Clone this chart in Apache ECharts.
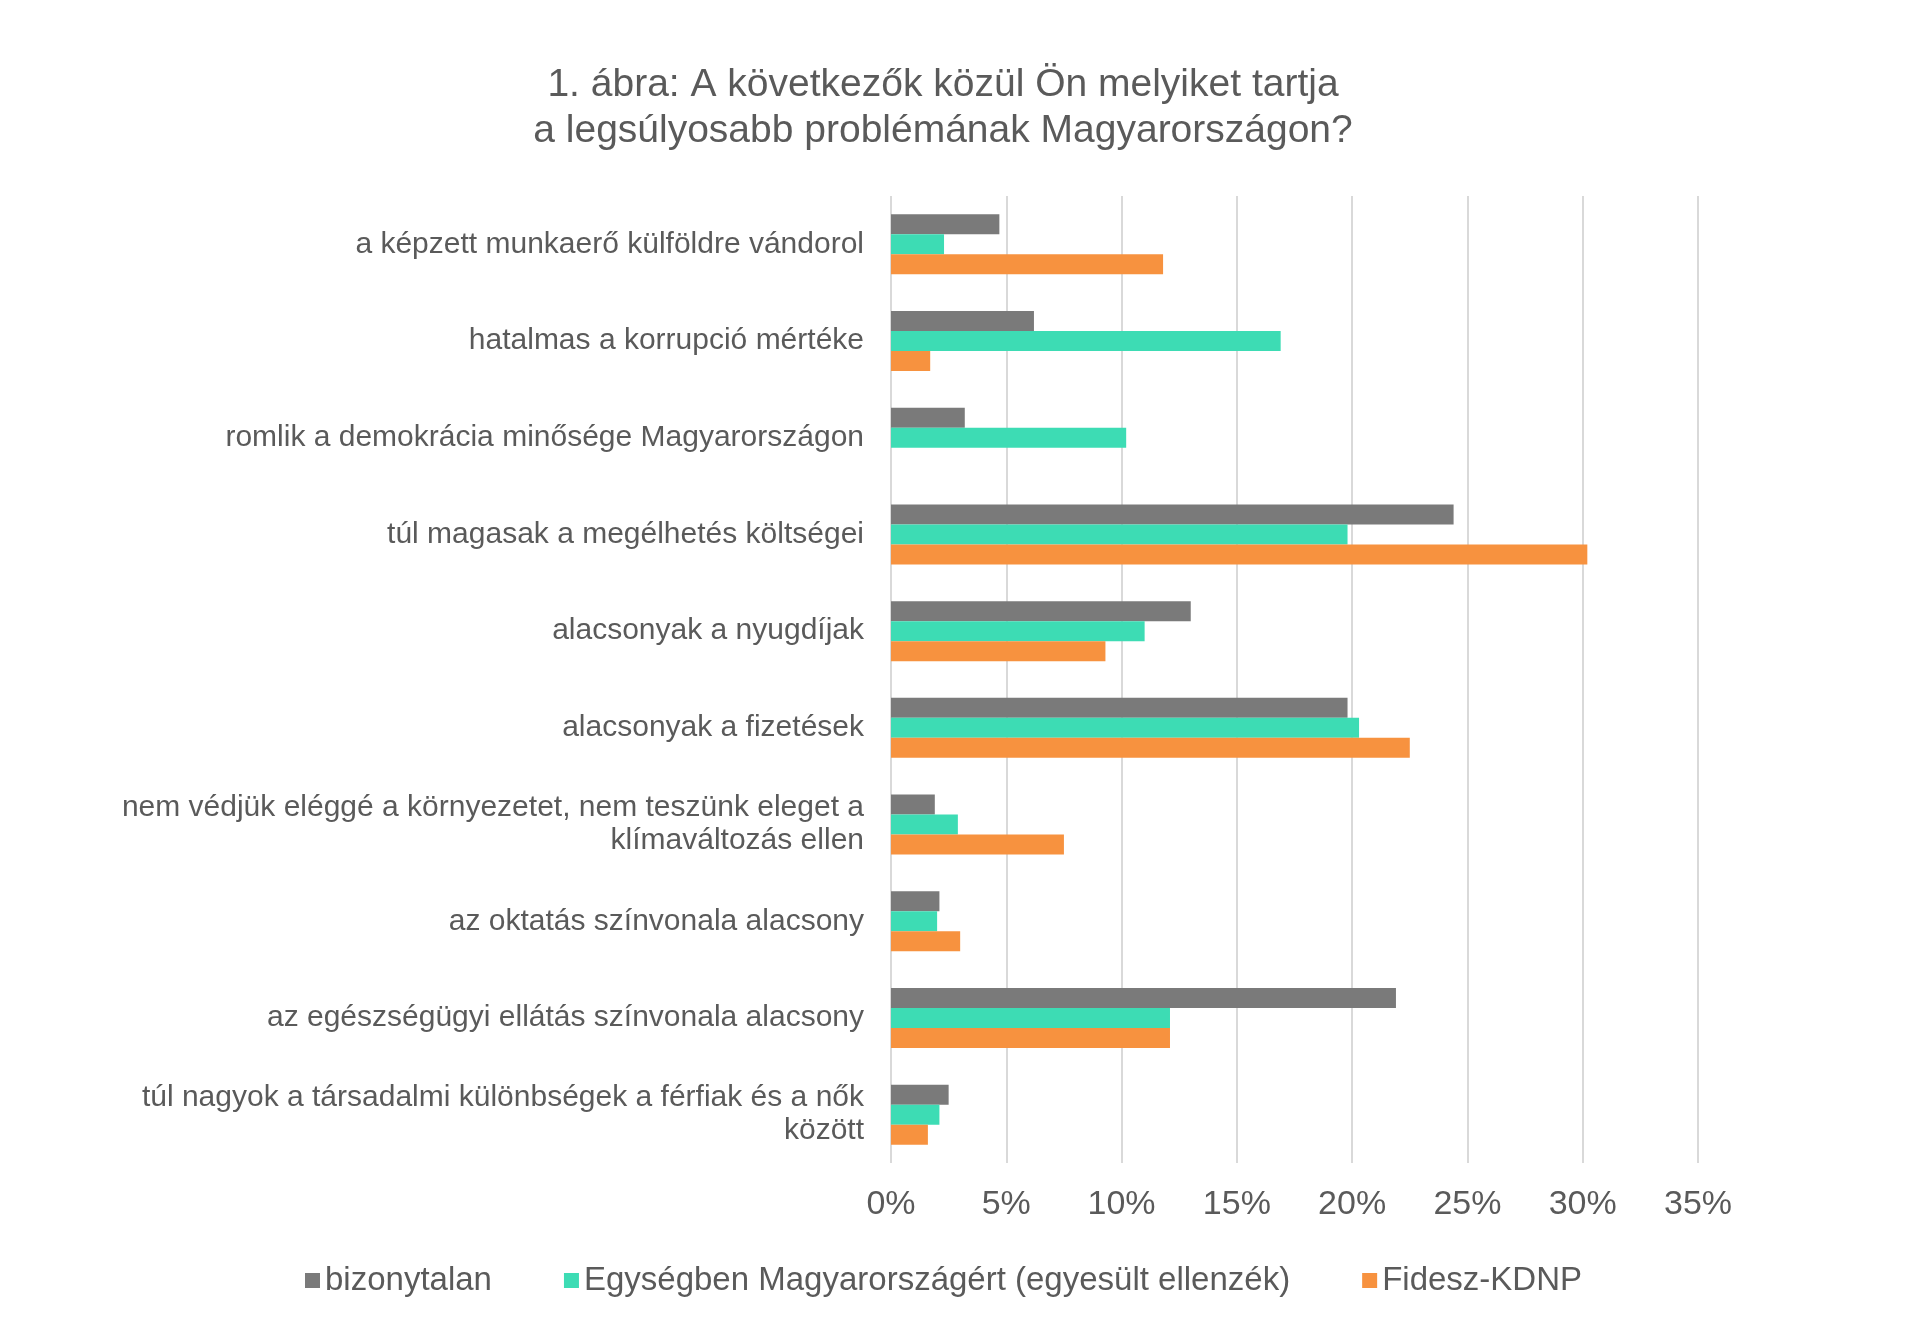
<!DOCTYPE html>
<html>
<head>
<meta charset="utf-8">
<title>1. ábra</title>
<script src="https://cdn.jsdelivr.net/npm/echarts@6/dist/echarts.min.js"></script>
<style>
  html, body { margin: 0; padding: 0; background: #fff; }
  #chart { width: 1920px; height: 1339px; }
</style>
</head>
<body>
<div id="chart"></div>
<script>
// kategóriák (fentről lefelé)
var categories = [
  'a képzett munkaerő külföldre vándorol',
  'hatalmas a korrupció mértéke',
  'romlik a demokrácia minősége Magyarországon',
  'túl magasak a megélhetés költségei',
  'alacsonyak a nyugdíjak',
  'alacsonyak a fizetések',
  'nem védjük eléggé a környezetet, nem teszünk eleget a\nklímaváltozás ellen',
  'az oktatás színvonala alacsony',
  'az egészségügyi ellátás színvonala alacsony',
  'túl nagyok a társadalmi különbségek a férfiak és a nők\nközött'
];

var seriesNames = ['bizonytalan', 'Egységben Magyarországért (egyesült ellenzék)', 'Fidesz-KDNP'];

// százalék
var bizonytalan = [4.7, 6.2, 3.2, 24.4, 13.0, 19.8, 1.9, 2.1, 21.9, 2.5];
var ellenzek    = [2.3, 16.9, 10.2, 19.8, 11.0, 20.3, 2.9, 2.0, 12.1, 2.1];
var fidesz      = [11.8, 1.7, 0, 30.2, 9.3, 22.5, 7.5, 3.0, 12.1, 1.6];

var xTicks = { min: 0, max: 35, interval: 5 };

var colors = ['#7a7a7a', '#3ddcb4', '#f7923f'];
var textColor = '#5a5a5a';
var font = '"Liberation Sans", Arial, Helvetica, sans-serif';

var chart = echarts.init(document.getElementById('chart'));

function makeSeries(name, data, color) {
  return {
    name: name,
    type: 'bar',
    data: data,
    barWidth: 20,
    barGap: '0%',
    itemStyle: { color: color },
    animation: false
  };
}

chart.setOption({
  backgroundColor: '#ffffff',
  textStyle: { fontFamily: font },
  graphic: [{
    type: 'text',
    x: 943,
    y: 62,
    style: {
      text: '1. ábra: A következők közül Ön melyiket tartja\na legsúlyosabb problémának Magyarországon?',
      fontFamily: font,
      fontSize: 39,
      lineHeight: 46,
      fill: textColor,
      align: 'center',
      verticalAlign: 'top'
    }
  }],
  legend: {
    data: seriesNames,
    left: 300,
    top: 1259,
    icon: 'rect',
    itemWidth: 15,
    itemHeight: 15,
    itemGap: 72,
    textStyle: { fontFamily: font, fontSize: 33, color: textColor }
  },
  grid: {
    left: 891,
    right: 222,
    top: 196,
    height: 967
  },
  xAxis: {
    type: 'value',
    min: xTicks.min,
    max: xTicks.max,
    interval: xTicks.interval,
    axisLine: { show: false },
    axisTick: { show: false },
    axisLabel: {
      formatter: '{value}%',
      fontFamily: font,
      fontSize: 34,
      color: textColor,
      margin: 25
    },
    splitLine: { show: true, lineStyle: { color: '#d9d9d9', width: 2 } }
  },
  yAxis: {
    type: 'category',
    data: categories,
    inverse: true,
    axisLine: { show: false },
    axisTick: { show: false },
    splitLine: { show: false },
    axisLabel: {
      fontFamily: font,
      fontSize: 30,
      color: textColor,
      margin: 27,
      lineHeight: 33,
      align: 'right'
    }
  },
  series: [
    makeSeries(seriesNames[0], bizonytalan, colors[0]),
    makeSeries(seriesNames[1], ellenzek, colors[1]),
    makeSeries(seriesNames[2], fidesz, colors[2])
  ]
});
</script>
</body>
</html>
